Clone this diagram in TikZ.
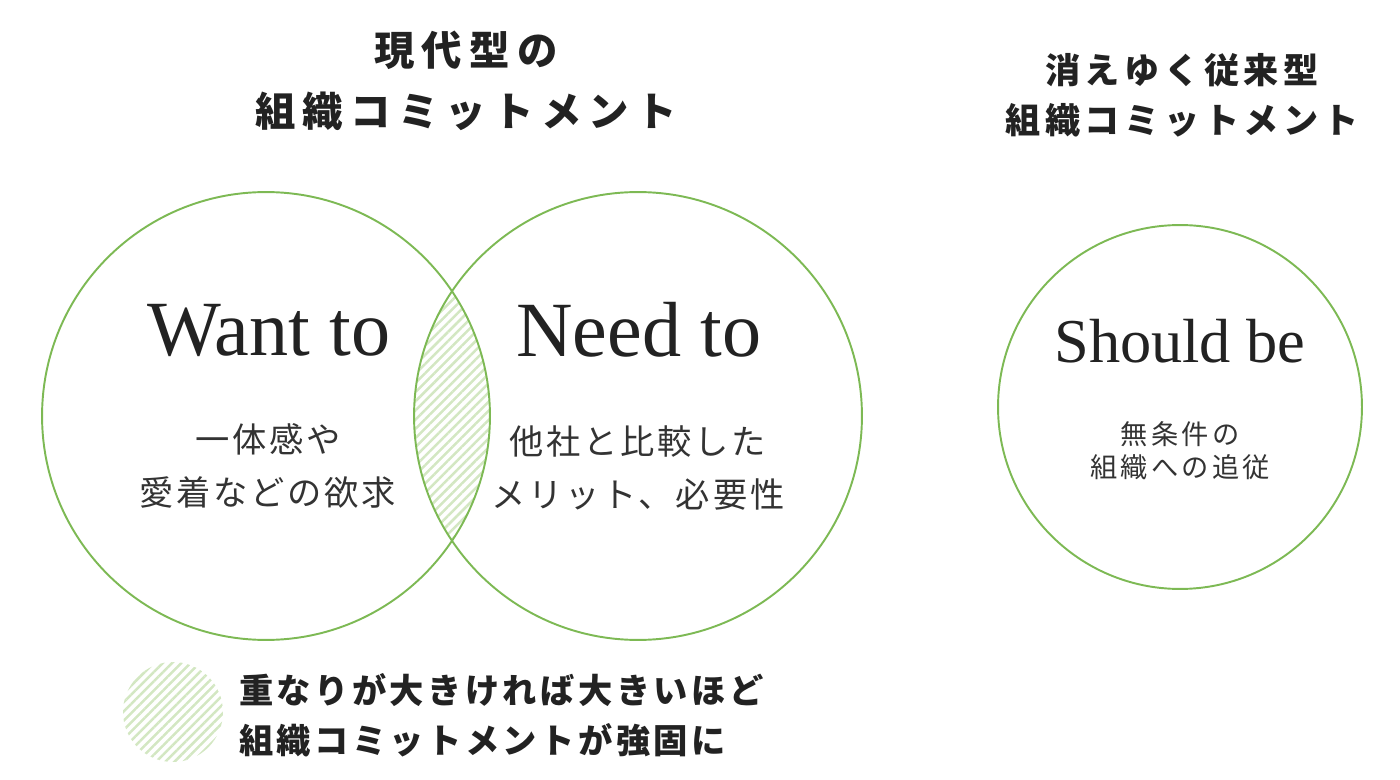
\documentclass[tikz,border=0pt]{standalone}
\usepackage{fontspec}
\usepackage{xcolor}
\usepackage{tikz}
\usetikzlibrary{patterns.meta}
\setmainfont{Liberation Serif}
\newfontfamily\jp{Noto Sans CJK JP}
\definecolor{ringgreen}{HTML}{7DB954}
\definecolor{hatchgreen}{HTML}{D3E7C2}
\definecolor{inkdark}{HTML}{222222}
\definecolor{inkgray}{HTML}{333333}

\begin{document}
\begin{tikzpicture}[x=0.02cm, y=-0.02cm,
  ring/.style={circle, draw=ringgreen, line width=1.1pt, inner sep=0pt},
  hatch/.style={pattern={Lines[angle=45, distance=0.13cm, line width=0.05cm]}, pattern color=hatchgreen},
  bigtitle/.style={font=\jp\bfseries\fontsize{23}{35}\selectfont\addfontfeatures{LetterSpace=18}, text=inkdark, align=center},
  sidetitle/.style={font=\jp\bfseries\fontsize{20}{28.4}\selectfont\addfontfeatures{LetterSpace=13}, text=inkdark, align=center},
  keyword/.style={font=\fontsize{44.5}{50}\selectfont, text=inkdark},
  bodytext/.style={font=\jp\fontsize{19.5}{30}\selectfont\addfontfeatures{LetterSpace=8}, text=inkgray, align=center},
  smalltext/.style={font=\jp\fontsize{15.5}{18.7}\selectfont\addfontfeatures{LetterSpace=12}, text=inkgray, align=center},
  legendtext/.style={font=\jp\bfseries\fontsize{19.5}{28.4}\selectfont\addfontfeatures{LetterSpace=10}, text=inkdark, align=left},
]
  \useasboundingbox (0,0) rectangle (1400,780);

  % overlap of the two circles
  \coordinate (wantc) at (266,416);
  \coordinate (needc) at (638,416);
  \begin{scope}
    \clip (wantc) circle[radius=4.48cm];
    \fill[hatch] (needc) circle[radius=4.48cm];
  \end{scope}

  \node[ring, minimum size=8.96cm] (want) at (wantc) {};
  \node[ring, minimum size=8.96cm] (need) at (needc) {};
  \node[ring, minimum size=7.28cm] (should) at (1180,407) {};

  % titles
  \node[bigtitle] (modern) at (466,81) {現代型の\\組織コミットメント};
  \node[sidetitle] (old) at (1182,95) {消えゆく従来型\\組織コミットメント};

  % circle texts
  \node[keyword] (wantlbl) at (269,330) {Want to};
  \node[bodytext] (wantsub) at (268,466) {一体感や\\愛着などの欲求};
  \node[keyword] (needlbl) at (639,330) {Need to};
  \node[bodytext] (needsub) at (638,468) {他社と比較した\\メリット、必要性};
  \node[keyword, font=\fontsize{35.5}{40}\selectfont] (shouldlbl) at (1180,341) {Should be};
  \node[smalltext] (shouldsub) at (1180,451) {無条件の\\組織への追従};

  % legend
  \node[circle, hatch, minimum size=2cm, inner sep=0pt] (key) at (173,712) {};
  \node[legendtext, anchor=west] (keytext) at (233,715) {重なりが大きければ大きいほど\\組織コミットメントが強固に};
\end{tikzpicture}
\end{document}
